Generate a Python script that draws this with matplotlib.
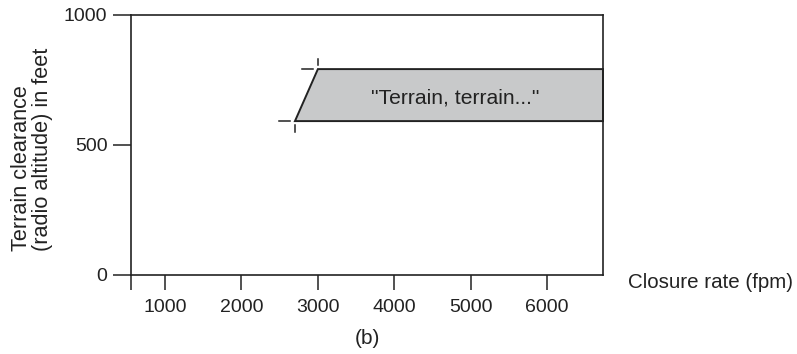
import matplotlib
matplotlib.use("Agg")
import matplotlib.pyplot as plt
from matplotlib.patches import Polygon

plt.rcParams['font.family'] = ['Liberation Sans', 'DejaVu Sans']

# Data
x_ticks = [1000, 2000, 3000, 4000, 5000, 6000]
y_ticks = [0, 500, 1000]
x_limits = [555, 6730]
y_limits = [0, 1000]
# Envelope corners (closure rate fpm, altitude ft)
env_low_x, env_low_y = 2700, 590
env_high_x, env_high_y = 3000, 790
label_text = '"Terrain, terrain..."'
label_x, label_y = 4790, 680

fig = plt.figure(figsize=(7.97, 3.54), dpi=100)
ax = fig.add_axes([131/797, 1-274.5/354, (603-131)/797, (274.5-14.5)/354])
ax.set_xlim(*x_limits)
ax.set_ylim(*y_limits)

col = '#222222'
poly = Polygon([(env_low_x, env_low_y), (env_high_x, env_high_y),
                (x_limits[1], env_high_y), (x_limits[1], env_low_y)],
               closed=True, facecolor='#c8c9ca', edgecolor=col, linewidth=1.4,
               clip_on=False, zorder=2)
ax.add_patch(poly)

# crosshair marks at envelope corners
hx, gx = 150, 60
vy, gy = 25, 15
ax.plot([env_low_x - gx - hx, env_low_x - gx], [env_low_y, env_low_y], color=col, lw=1.1)
ax.plot([env_low_x, env_low_x], [env_low_y - gy - vy, env_low_y - gy], color=col, lw=1.1)
ax.plot([env_high_x - gx - hx, env_high_x - gx], [env_high_y, env_high_y], color=col, lw=1.1)
ax.plot([env_high_x, env_high_x], [env_high_y + gy, env_high_y + gy + vy], color=col, lw=1.1)

ax.text(label_x, label_y, label_text, ha='center', va='center', fontsize=15.2, color='#222222', zorder=3)

ax.set_xticks(x_ticks)
ax.set_xticklabels([str(v) for v in x_ticks])
ax.set_xticks([x_limits[0]], minor=True)
ax.set_yticks(y_ticks)
ax.set_yticklabels([str(v) for v in y_ticks])
ax.tick_params(axis='both', which='both', direction='out', width=1.1,
               color=col, labelsize=14, labelcolor='#222222')
ax.tick_params(axis='x', which='both', length=11, pad=7)
ax.tick_params(axis='y', length=13, pad=4)
for s in ax.spines.values():
    s.set_color(col)
    s.set_linewidth(1.2)

fig.text(32/797, 1-251/354, 'Terrain clearance\n(radio altitude) in feet', rotation=90,
         ha='center', va='bottom', multialignment='left', fontsize=15.6,
         color='#222222', linespacing=1.0)
fig.text(628/797, 1-282/354, 'Closure rate (fpm)', ha='left', va='center', fontsize=14.8, color='#222222')
fig.text(367/797, 1-339/354, '(b)', ha='center', va='center', fontsize=15, color='#222222')

fig.savefig('out.png', dpi=100)
